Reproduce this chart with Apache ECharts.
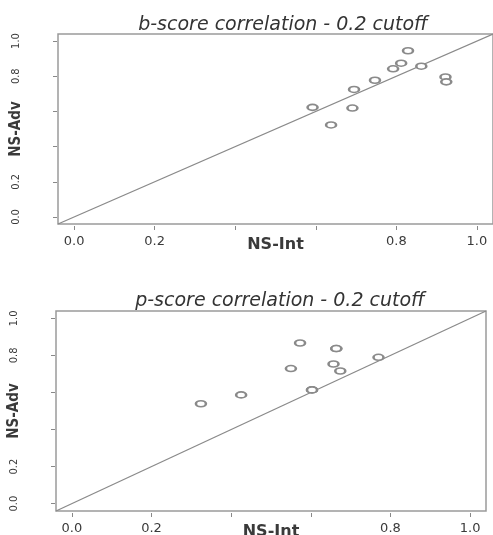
<!DOCTYPE html>
<html>
<head>
<meta charset="utf-8">
<script src="https://cdn.jsdelivr.net/npm/echarts@6/dist/echarts.min.js"></script>
<style>html,body{margin:0;padding:0;background:#fff}#c{width:493px;height:535px}</style>
</head>
<body>
<div id="c"></div>
<script>
// ---- data ----
var titles = ['b-score correlation - 0.2 cutoff', 'p-score correlation - 0.2 cutoff'];
var xName = 'NS-Int';
var yName = 'NS-Adv';
var bInt = [0.592, 0.638, 0.691, 0.695, 0.747, 0.792, 0.812, 0.829, 0.862, 0.922, 0.924];
var bAdv = [0.623, 0.523, 0.619, 0.725, 0.777, 0.842, 0.874, 0.945, 0.857, 0.796, 0.768];
var pInt = [0.324, 0.425, 0.550, 0.573, 0.603, 0.603, 0.657, 0.664, 0.664, 0.674, 0.770];
var pAdv = [0.539, 0.587, 0.729, 0.867, 0.614, 0.614, 0.754, 0.837, 0.837, 0.716, 0.790];
var tickValues = [0, 0.2, 0.4, 0.6, 0.8, 1.0];
var labelValues = [0, 0.2, 0.8, 1.0];
var axisRange = [-0.04, 1.04];
var ablineX = [-0.04, 1.04]; // y = x reference line

var chart = echarts.init(document.getElementById('c'), null, {renderer: 'canvas'});
var grids = [
  {left: 58, top: 34, width: 435, height: 190},
  {left: 56, top: 311, width: 430, height: 200}
];
var textCol = '#3a3a3a';
function xAxis(i) {
  return {
    type: 'value', gridIndex: i, min: axisRange[0], max: axisRange[1],
    name: xName, nameLocation: 'middle', nameGap: 11, nameMoveOverlap: false,
    nameTextStyle: {fontFamily: 'DejaVu Sans', fontWeight: 'bold', fontSize: 16, color: textCol, verticalAlign: 'top'},
    offset: 2,
    axisLine: {show: false, onZero: false},
    axisTick: {show: true, inside: false, customValues: tickValues, length: 4, lineStyle: {color: '#888'}},
    axisLabel: {customValues: labelValues, formatter: function (v) { return v.toFixed(1); },
      fontFamily: 'DejaVu Sans', fontSize: 13, color: textCol, margin: 9},
    splitLine: {show: false}
  };
}
function yAxis(i) {
  return {
    type: 'value', gridIndex: i, min: axisRange[0], max: axisRange[1],
    name: yName, nameLocation: 'middle', nameGap: 33, nameRotate: 90, nameMoveOverlap: false,
    nameTextStyle: {fontFamily: 'Liberation Sans Narrow, DejaVu Sans Condensed, sans-serif', fontWeight: 'bold', fontSize: 15, color: textCol},
    offset: 1,
    axisLine: {show: false, onZero: false},
    axisTick: {show: true, inside: false, customValues: tickValues, length: 4, lineStyle: {color: '#888'}},
    axisLabel: {customValues: labelValues, formatter: function (v) { return v.toFixed(1); }, rotate: 90,
      fontFamily: 'Liberation Sans Narrow, DejaVu Sans Condensed, sans-serif', fontSize: 11, color: textCol, margin: 35},
    splitLine: {show: false}
  };
}
function pts(xs, ys) { return xs.map(function (x, k) { return [x, ys[k]]; }); }
function scatter(i, xs, ys) {
  return {type: 'scatter', xAxisIndex: i, yAxisIndex: i, data: pts(xs, ys),
    symbol: 'emptyCircle', symbolSize: [10, 6],
    itemStyle: {color: '#8a8a8a', borderColor: '#8a8a8a', borderWidth: 1.2, opacity: 1}, z: 3};
}
function abline(i) {
  return {type: 'line', xAxisIndex: i, yAxisIndex: i, data: ablineX.map(function (v) { return [v, v]; }),
    showSymbol: false, symbol: 'none', lineStyle: {color: '#8a8a8a', width: 1.3}, z: 2, silent: true};
}
var option = {
  animation: false,
  backgroundColor: '#fff',
  title: [
    {text: titles[0], left: 278, top: 11, textAlign: 'center',
      textStyle: {fontFamily: 'DejaVu Sans', fontStyle: 'italic', fontWeight: 'normal', fontSize: 19, color: '#333'}},
    {text: titles[1], left: 275, top: 287, textAlign: 'center',
      textStyle: {fontFamily: 'DejaVu Sans', fontStyle: 'italic', fontWeight: 'normal', fontSize: 19, color: '#333'}}
  ],
  grid: grids.map(function (g) { return Object.assign({show: true, containLabel: false, outerBoundsMode: 'none', borderColor: '#9a9a9a', borderWidth: 1.5, backgroundColor: 'transparent'}, g); }),
  xAxis: [xAxis(0), xAxis(1)],
  yAxis: [yAxis(0), yAxis(1)],
  series: [abline(0), scatter(0, bInt, bAdv), abline(1), scatter(1, pInt, pAdv)]
};
chart.setOption(option);
</script>
</body>
</html>
